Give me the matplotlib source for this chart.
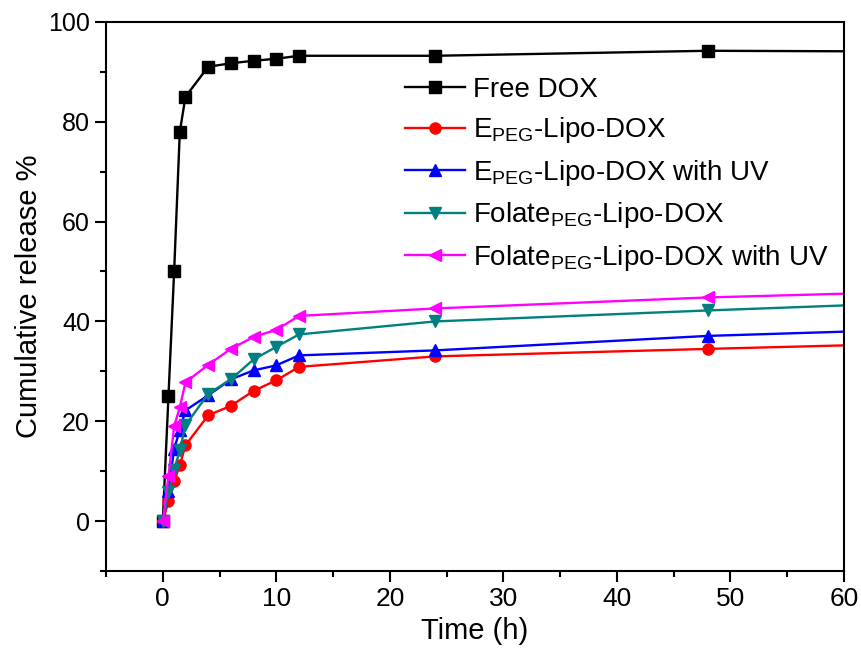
import numpy as np
import matplotlib
matplotlib.use("Agg")
import matplotlib.pyplot as plt
from matplotlib.ticker import MultipleLocator

plt.rcParams['font.family'] = ['Liberation Sans', 'DejaVu Sans']
plt.rcParams['mathtext.fontset'] = 'custom'
plt.rcParams['mathtext.rm'] = 'Liberation Sans'

# sampling times (h); the 72 h point lies beyond the axis and is clipped
time_h = [0, 0.5, 1, 1.5, 2, 4, 6, 8, 10, 12, 24, 48, 72]

free_dox = [0, 25, 50, 78, 85, 91, 91.7, 92.2, 92.6, 93.2, 93.2, 94.2, 94.0]
epeg = [0, 4, 8, 11.2, 15.2, 21.2, 23.1, 26.1, 28.2, 30.9, 33.0, 34.5, 35.9]
epeg_uv = [0, 6, 14.5, 18.2, 22.2, 25.2, 28.4, 30.2, 31.2, 33.2, 34.2, 37.1, 38.8]
folate = [0, 5.8, 10.2, 14.2, 19.2, 25.5, 28.4, 32.4, 34.9, 37.4, 40.0, 42.2, 44.2]
folate_uv = [0, 9, 19, 22.8, 27.8, 31.3, 34.5, 36.9, 38.3, 41.1, 42.6, 44.8, 46.3]

labels = ['Free DOX',
          r'E$_{\mathregular{PEG}}$-Lipo-DOX',
          r'E$_{\mathregular{PEG}}$-Lipo-DOX with UV',
          r'Folate$_{\mathregular{PEG}}$-Lipo-DOX',
          r'Folate$_{\mathregular{PEG}}$-Lipo-DOX with UV']
colors = ['black', '#ff0000', '#0000ff', '#008080', '#ff00ff']
markers = ['s', 'o', '^', 'v', '<']
series = [free_dox, epeg, epeg_uv, folate, folate_uv]

fig = plt.figure(figsize=(8.62, 6.61), dpi=100)
ax = fig.add_axes([0.123, 0.136, 0.856, 0.831])

for y, lab, c, m in zip(series, labels, colors, markers):
    ax.plot(time_h, y, color=c, marker=m, markersize=8, linewidth=1.7,
            label=lab)

ax.set_xlim(-5, 60)
ax.set_ylim(-10, 100)
ax.xaxis.set_major_locator(MultipleLocator(10))
ax.xaxis.set_minor_locator(MultipleLocator(5))
ax.yaxis.set_major_locator(MultipleLocator(20))
ax.yaxis.set_minor_locator(MultipleLocator(10))
ax.tick_params(which='major', direction='out', length=8, width=1.5, labelsize=19)
ax.tick_params(axis='y', labelsize=18)
ax.tick_params(which='minor', direction='out', length=4, width=1.5)
ax.tick_params(top=False, right=False)
for s in ax.spines.values():
    s.set_linewidth(1.5)

ax.set_xlabel('Time (h)', fontsize=21, labelpad=4)
ax.set_ylabel('Cumulative release %', fontsize=21, labelpad=4)

ax.legend(loc='upper left', frameon=False, fontsize=20, handlelength=2.16,
          labelspacing=0.45, borderaxespad=0.0, handletextpad=0.3,
          bbox_to_anchor=(0.39, 0.92))

fig.savefig('out.png', dpi=100)
